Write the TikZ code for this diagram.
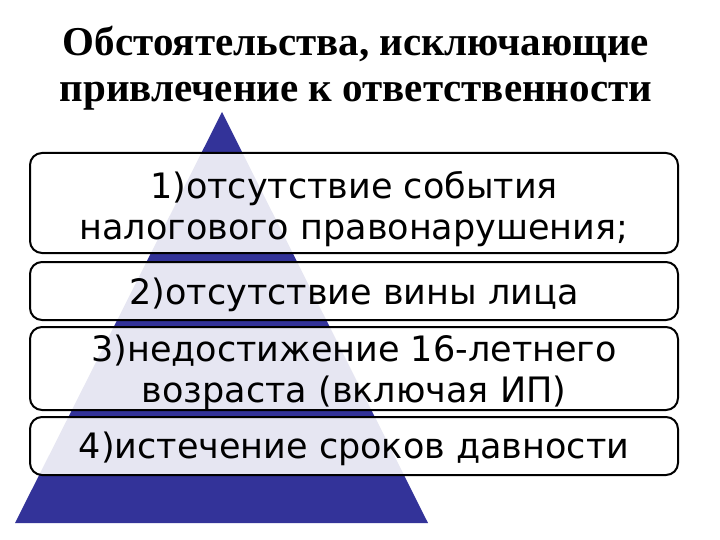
\documentclass[tikz,border=0pt]{standalone}
\usepackage{fontspec}
\setmainfont{DejaVu Sans}
\newfontfamily\titlefont{Liberation Serif}
\definecolor{pyr}{HTML}{333399}
\begin{document}
\begin{tikzpicture}[x=1pt,y=-1pt,
  layer/.style={draw=black,line width=2pt,rounded corners=12pt,fill=white,fill opacity=0.88,text opacity=1},
  ltext/.style={font=\fontsize{35}{41}\selectfont,align=center,inner sep=0pt}]
\useasboundingbox (0,0) rectangle (720,540);
\node[font=\titlefont\bfseries\fontsize{41}{46}\selectfont,align=center,inner sep=0pt] (title) at (356,68) {Обстоятельства, исключающие\\привлечение к ответственности};
\fill[pyr] (222,112) coordinate (apex) -- (15,523) coordinate (bl) -- (428,523) coordinate (br) -- cycle;
\draw[layer] (30,153) rectangle (678,253);
\draw[layer] (30,262) rectangle (678,320);
\draw[layer] (30,327) rectangle (678,410);
\draw[layer] (30,417) rectangle (678,475);
\node[ltext] (t1) at (354,209) {1)отсутствие события\\налогового правонарушения;};
\node[ltext] (t2) at (354,295) {2)отсутствие вины лица};
\node[ltext] (t3) at (354,372) {3)недостижение 16-летнего\\возраста (включая ИП)};
\node[ltext] (t4) at (354,449) {4)истечение сроков давности};
\end{tikzpicture}
\end{document}
